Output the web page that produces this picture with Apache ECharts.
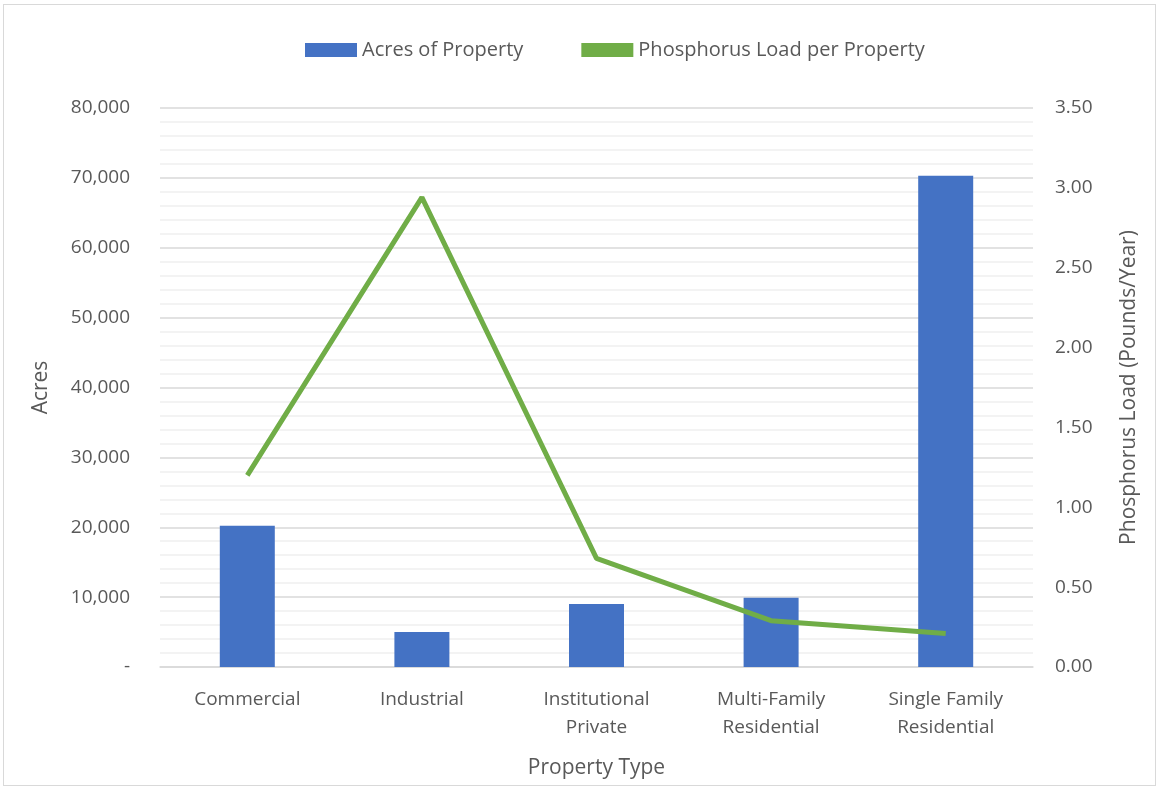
<!DOCTYPE html>
<html><head><meta charset="utf-8">
<script src="https://cdn.jsdelivr.net/npm/echarts@6/dist/echarts.min.js"></script>
<style>
html,body{margin:0;padding:0;background:#fff;}
#wrap{position:absolute;left:3px;top:4px;width:1153px;height:782px;border:1px solid #d9d9d9;box-sizing:border-box;}
#c{position:absolute;left:0;top:0;width:1161px;height:791px;}
</style></head>
<body>
<div id="wrap"></div>
<div id="c"></div>
<script>
const categories = ['Commercial', 'Industrial', 'Institutional\nPrivate', 'Multi-Family\nResidential', 'Single Family\nResidential'];
const acres = [20200, 5000, 9000, 9900, 70300];
const phosphorus = [1.20, 2.94, 0.68, 0.29, 0.21];
const leftTicks = {min: 0, max: 80000, interval: 10000};
const rightTicks = {min: 0, max: 3.5, interval: 0.5};

const font = 'Open Sans';
const txt = '#595959';
const chart = echarts.init(document.getElementById('c'));
chart.setOption({
  animation: false,
  textStyle: {fontFamily: font},
  legend: {
    top: 35, left: 300, itemGap: 58, itemWidth: 52, itemHeight: 14,
    textStyle: {fontSize: 20, color: txt, fontFamily: font},
    data: [
      {name: 'Acres of Property', icon: 'rect'},
      {name: 'Phosphorus Load per Property', icon: 'rect', itemStyle: {color: '#70ad47'}}
    ]
  },
  grid: {left: 160, right: 128, top: 108, bottom: 124},
  xAxis: {
    type: 'category', data: categories,
    name: 'Property Type', nameLocation: 'middle', nameGap: 91,
    nameTextStyle: {fontSize: 21, color: txt},
    axisLine: {lineStyle: {color: '#d9d9d9', width: 1.5}},
    axisTick: {show: false},
    axisLabel: {fontSize: 19, color: txt, margin: 19, lineHeight: 28}
  },
  yAxis: [{
    type: 'value', min: leftTicks.min, max: leftTicks.max, interval: leftTicks.interval,
    name: 'Acres', nameLocation: 'middle', nameGap: 108,
    nameTextStyle: {fontSize: 21, color: txt},
    axisLine: {show: false}, axisTick: {show: false},
    axisLabel: {fontSize: 19, color: txt, margin: 30,
      formatter: v => v === 0 ? '-' : v.toLocaleString('en-US')},
    splitLine: {lineStyle: {color: '#d9d9d9', width: 1.5}},
    minorTick: {show: false, splitNumber: 5},
    minorSplitLine: {show: true, lineStyle: {color: '#f0f0f0', width: 1.5}}
  }, {
    type: 'value', min: rightTicks.min, max: rightTicks.max, interval: rightTicks.interval,
    name: 'Phosphorus Load (Pounds/Year)', nameLocation: 'middle', nameGap: 86, nameRotate: 90,
    nameTextStyle: {fontSize: 21, color: txt},
    axisLine: {show: false}, axisTick: {show: false},
    axisLabel: {fontSize: 19, color: txt, margin: 22, formatter: v => v.toFixed(2)},
    splitLine: {show: false}
  }],
  series: [{
    name: 'Acres of Property', type: 'bar', data: acres, barWidth: '31.5%',
    itemStyle: {color: '#4472c4'}
  }, {
    name: 'Phosphorus Load per Property', type: 'line', yAxisIndex: 1, data: phosphorus,
    symbol: 'none', lineStyle: {color: '#70ad47', width: 5}, itemStyle: {color: '#70ad47'}
  }]
});
</script>
</body></html>
